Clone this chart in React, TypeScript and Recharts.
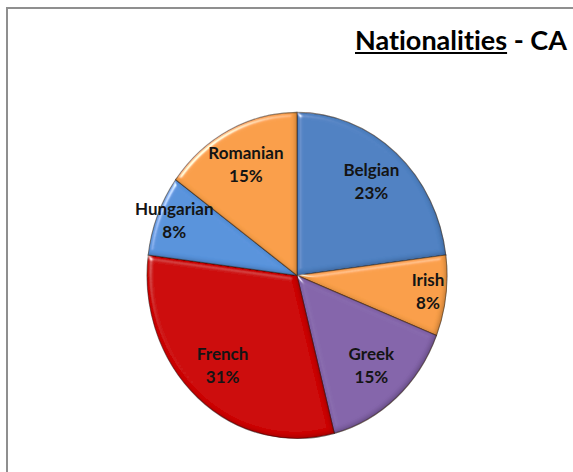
import React from 'react';
import { PieChart, Pie, Cell } from 'recharts';

const nationalities = ['Belgian', 'Irish', 'Greek', 'French', 'Hungarian', 'Romanian'];
const shares = [23, 8, 15, 31, 8, 15];
const sliceColors = ['#4f81c2', '#f99f4a', '#8465aa', '#cc0000', '#5993dc', '#f99f4a'];

const data = nationalities.map((name, i) => ({ name, value: shares[i] }));

const CX = 292;
const CY = 270;
const RX = 150;
// pie is drawn slightly taller than wide
const SY = 1.087;
const RAD = Math.PI / 180;

const renderLabel = (props: any) => {
  const { cx, cy, midAngle, outerRadius, percent, name } = props;
  const f = percent < 0.1 ? 0.88 : 0.75;
  const x = cx + outerRadius * f * Math.cos(-midAngle * RAD);
  const y = cy + outerRadius * f * Math.sin(-midAngle * RAD) * SY;
  return (
    <text
      x={x}
      y={y}
      textAnchor="middle"
      fill="#141414"
      style={{ fontFamily: 'Lato, sans-serif', fontWeight: 700, fontSize: 17 }}
    >
      <tspan x={x} dy={-7}>{name}</tspan>
      <tspan x={x} dy={23}>{`${Math.round(percent * 100)}%`}</tspan>
    </text>
  );
};

export default function App() {
  return (
    <div
      style={{
        position: 'fixed',
        left: 0,
        top: 0,
        width: 573,
        height: 472,
        overflow: 'hidden',
        background: '#fff',
      }}
    >
      <style>{`
        .nat-pie .recharts-pie-sector {
          transform-box: view-box;
          transform-origin: ${CX}px ${CY}px;
          transform: scaleY(${SY});
        }
      `}</style>
      <div
        style={{
          position: 'absolute',
          left: 6,
          top: 7,
          width: 600,
          height: 500,
          border: '2px solid #8f8f8f',
        }}
      />
      <div
        style={{
          position: 'absolute',
          left: 355,
          top: 23,
          fontFamily: 'Lato, sans-serif',
          fontWeight: 700,
          fontSize: 27,
          fontVariantLigatures: 'none',
          color: '#000',
          whiteSpace: 'nowrap',
        }}
      >
        <span style={{ textDecoration: 'underline' }}>Nationalities</span> - CA
      </div>
      <div className="nat-pie" style={{ position: 'absolute', left: 0, top: 0 }}>
        <PieChart width={573} height={472}>
          <defs>
            <filter id="bevel" x="-10%" y="-10%" width="120%" height="120%">
              <feGaussianBlur in="SourceAlpha" stdDeviation="2.5" result="blur" />
              <feSpecularLighting
                in="blur"
                surfaceScale="3"
                specularConstant="0.7"
                specularExponent="40"
                lightingColor="#ffffff"
                result="spec"
              >
                <feDistantLight azimuth="225" elevation="35" />
              </feSpecularLighting>
              <feComposite in="spec" in2="SourceAlpha" operator="in" result="specIn" />
              <feComposite
                in="SourceGraphic"
                in2="specIn"
                operator="arithmetic"
                k1="0"
                k2="1"
                k3="1"
                k4="0"
                result="lit"
              />
              <feOffset in="SourceAlpha" dx="-2" dy="-2" result="off" />
              <feGaussianBlur in="off" stdDeviation="2" result="offBlur" />
              <feComposite in="SourceAlpha" in2="offBlur" operator="out" result="inner" />
              <feFlood floodColor="#000000" floodOpacity="0.45" result="dark" />
              <feComposite in="dark" in2="inner" operator="in" result="shadow" />
              <feMerge>
                <feMergeNode in="lit" />
                <feMergeNode in="shadow" />
              </feMerge>
            </filter>
          </defs>
          <Pie
            data={data}
            dataKey="value"
            nameKey="name"
            cx={CX}
            cy={CY}
            outerRadius={RX}
            startAngle={90}
            endAngle={-270}
            stroke="rgba(50,30,10,0.5)"
            strokeWidth={1}
            label={renderLabel}
            labelLine={false}
            isAnimationActive={false}
          >
            {data.map((d, i) => (
              <Cell key={d.name} fill={sliceColors[i]} filter="url(#bevel)" />
            ))}
          </Pie>
        </PieChart>
      </div>
    </div>
  );
}
